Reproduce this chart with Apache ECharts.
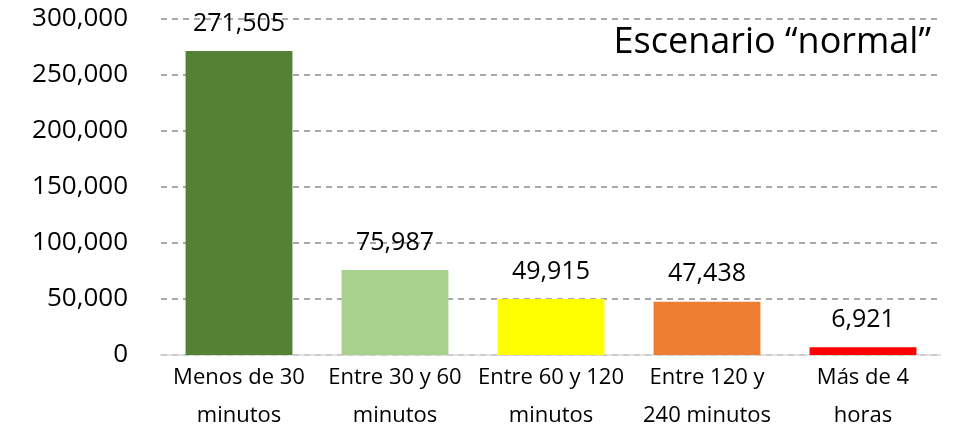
<!DOCTYPE html>
<html>
<head>
<meta charset="utf-8">
<script src="https://cdn.jsdelivr.net/npm/echarts@6/dist/echarts.min.js"></script>
<style>
  html, body { margin: 0; padding: 0; background: #fff; }
  #chart { width: 956px; height: 434px; }
</style>
</head>
<body>
<div id="chart"></div>
<script>
// categories and values
const categories = ['Menos de 30\nminutos', 'Entre 30 y 60\nminutos', 'Entre 60 y 120\nminutos', 'Entre 120 y\n240 minutos', 'Más de 4\nhoras'];
const values = [271505, 75987, 49915, 47438, 6921];
const barColors = ['#548235', '#A9D18E', '#FFFF00', '#ED7D31', '#FF0000'];
const yTicks = [0, 50000, 100000, 150000, 200000, 250000, 300000];

const font = '"Open Sans", "Noto Sans", sans-serif';
const fmt = v => v.toLocaleString('en-US');

const chart = echarts.init(document.getElementById('chart'));

chart.setOption({
  animation: false,
  title: {
    text: 'Escenario “normal”',
    right: 20,
    top: 20,
    textStyle: { fontFamily: font, fontSize: 36, fontWeight: 'normal', color: '#000' }
  },
  grid: { left: 161, right: 15, top: 19, bottom: 79, outerBoundsMode: 'none' },
  xAxis: {
    type: 'category',
    data: categories,
    axisLine: { lineStyle: { color: '#d9d9d9', width: 1.5 } },
    axisTick: { show: false },
    axisLabel: {
      color: '#000', fontFamily: font, fontSize: 22, lineHeight: 38, margin: 4,
      interval: 0
    }
  },
  yAxis: {
    type: 'value',
    min: yTicks[0],
    max: yTicks[yTicks.length - 1],
    interval: 50000,
    axisLine: { show: false },
    axisTick: { show: false },
    axisLabel: {
      color: '#000', fontFamily: font, fontSize: 26, margin: 33,
      formatter: v => fmt(v)
    },
    splitLine: { lineStyle: { color: '#8c8c8c', type: [6, 5], width: 1.5 } }
  },
  series: [{
    type: 'bar',
    barWidth: '68.5%',
    data: values.map((v, i) => ({ value: v, itemStyle: { color: barColors[i] } })),
    label: {
      show: true,
      position: 'top',
      distance: 15,
      color: '#000',
      fontFamily: font,
      fontSize: 25,
      formatter: p => fmt(p.value)
    }
  }]
});
</script>
</body>
</html>
